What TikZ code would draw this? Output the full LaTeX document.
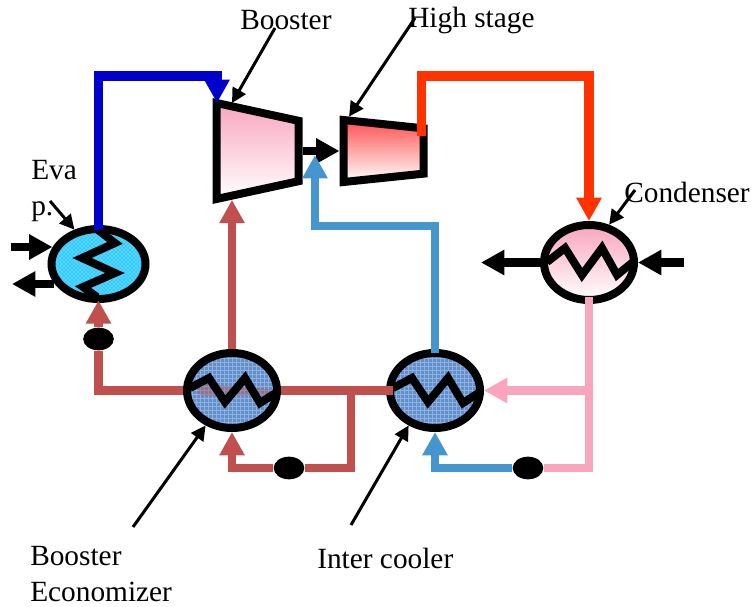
\documentclass[tikz,border=0pt]{standalone}
\usepackage{fontspec}
\setmainfont{Liberation Serif}
\usetikzlibrary{arrows.meta,shapes.geometric,patterns}
\definecolor{evapcol}{HTML}{33CCFF}
\definecolor{coolcol}{HTML}{5F8FCC}
\definecolor{darkblue}{HTML}{0000CC}
\definecolor{skyblue}{HTML}{4596CF}
\definecolor{brick}{HTML}{C0504D}
\definecolor{rosepink}{HTML}{F9A5BE}
\definecolor{hotred}{HTML}{FF3300}
\definecolor{lightred}{HTML}{FF5050}
\tikzset{
  exchanger/.style={ellipse,draw=black,line width=6pt,inner sep=0pt,minimum width=67.5pt,minimum height=56.25pt},
  evapbody/.style={exchanger,minimum width=70.5pt,minimum height=52.5pt,preaction={fill=evapcol},preaction={pattern=crosshatch dots,pattern color=white!80!evapcol}},
  coolbody/.style={exchanger,preaction={fill=coolcol},preaction={pattern=grid,pattern color=white!30!coolcol}},
  condbody/.style={exchanger,top color=rosepink,bottom color=white},
  valve/.style={ellipse,fill=black,inner sep=0pt,minimum width=23pt,minimum height=17pt},
  stage/.style={trapezium,draw=black,line width=6pt,inner sep=1pt,shape border rotate=270,trapezium stretches=true},
  coil/.style={draw=black,line width=6pt,line join=miter},
  pipe/.style={line width=6.5pt,-{Triangle[length=17.5pt,width=18pt]}},
  plainpipe/.style={line width=6.5pt},
  leader/.style={draw=black,line width=2.25pt,-{Triangle[length=11pt,width=11pt]}},
  label/.style={anchor=west,inner sep=0pt,align=left,font=\fontsize{22}{27}\selectfont}
}
\begin{document}
\begin{tikzpicture}[x=0.75pt,y=-0.75pt]
\useasboundingbox (0,0) rectangle (752,606);
% compressors
\node[stage,top color=rosepink,bottom color=white,minimum width=72pt,minimum height=61.5pt,trapezium left angle=73.6,trapezium right angle=73.6] (booster) at (257.5,151) {};
\node[stage,top color=lightred,bottom color=white,minimum width=46.5pt,minimum height=60pt,trapezium left angle=79.6,trapezium right angle=79.6] (highstage) at (383.5,151) {};
% heat exchangers
\node[evapbody] (evap) at (98.5,264) {};
\node[coolbody] (econ) at (232,390.5) {};
\node[coolbody] (inter) at (435,390.5) {};
\node[condbody] (cond) at (589,262.5) {};
% expansion valves
\node[valve] (valvea) at (98.5,339) {};
\node[valve] (valveb) at (289,468) {};
\node[valve] (valvec) at (528,468) {};
% coils
\fill[brick,opacity=0.4] (196,393) -- (204,384) -- (270,389) -- (270,395) -- (204,396) -- cycle;
\draw[coil] (98,230) -- (115,243) -- (82,258) -- (115,273) -- (83,287) -- (97,297);
\draw[coil] (190,388) -- (209,378) -- (225,402) -- (245,378) -- (260,403) -- (277,392);
\draw[coil] (393,388) -- (412,378) -- (428,402) -- (448,378) -- (463,403) -- (480,392);
\draw[coil] (547,262) -- (565,248) -- (582,275) -- (602,248) -- (617,275) -- (633,262);
% evaporator and condenser water
\coordinate (evapin) at (11,247);
\coordinate (evapout) at (12,284);
\coordinate (condin) at (684,262.5);
\coordinate (condout) at (481,262.5);
\draw[pipe,black] (evapin) -- (evapin -| evap.160);
\draw[pipe,black] (evapout -| evap.204) -- (evapout);
\draw[pipe,black] (condin) -- (cond.east);
\draw[pipe,black] (cond.west) -- (condout);
% refrigerant lines
\draw[pipe,black] (booster.east) -- (highstage.west);
\coordinate (lowtop) at (98.5,76);
\coordinate (boostin) at (217,103);
\coordinate (highout) at (421.5,136);
\draw[pipe,darkblue,line width=7pt] (evap.north) ++(0,5) -- (lowtop) -- (boostin |- lowtop) -- (boostin);
\draw[pipe,hotred,line width=7pt] (highout) -- (421.5,76) -- (589,76) -- (cond.north);
\draw[pipe,brick] (econ.north) -- (econ.north |- booster.242);
\draw[plainpipe,brick] (econ.west) -- (econ.west -| valvea) -- (valvea.south);
\draw[pipe,brick] (valvea.north) -- ([yshift=2pt]evap.south);
\draw[plainpipe,brick] (econ.east) -- ([xshift=5]inter.west);
\coordinate (branch) at (351,391);
\draw[plainpipe,brick] (branch) -- (351,468) -- (valveb.east);
\draw[pipe,brick] (valveb.west) -- (232,468) -- (econ.south);
\coordinate (shaftin) at (315,155);
\draw[pipe,skyblue] (inter.north) ++(0,4) -- (435,226) -- (315,226) -- (shaftin);
\draw[pipe,skyblue] (valvec.west) -- (435,468) -- (inter.south);
\draw[plainpipe,rosepink] (valvec.east) -- (589,468) -- ([yshift=5]cond.south);
\draw[pipe,rosepink] (inter.east -| cond) -- (inter.east);
% labels
\node[label] (lblbooster) at (240,20) {Booster};
\node[label] (lblhigh) at (408,20) {High stage};
\node[label] (lblevap) at (31,191) {Eva\\p.};
\node[label] (lblcond) at (624,192) {Condenser};
\node[label] (lblecon) at (30,574) {Booster\\Economizer};
\node[label] (lblinter) at (317,558) {Inter cooler};
% leaders
\coordinate (fromboost) at (275,28);
\coordinate (fromhigh) at (415,18);
\coordinate (fromevap) at (50,201);
\coordinate (fromcond) at (635,190);
\coordinate (fromecon) at (133,527);
\coordinate (frominter) at (351,525);
\draw[leader] (fromboost) -- (232,103);
\draw[leader] (fromhigh) -- (highstage.135);
\draw[leader] (fromevap) -- (evap.125);
\draw[leader] (fromcond) -- (cond.62);
\draw[leader] (fromecon) -- (econ.233);
\draw[leader] (frominter) -- (inter.233);
\end{tikzpicture}
\end{document}
